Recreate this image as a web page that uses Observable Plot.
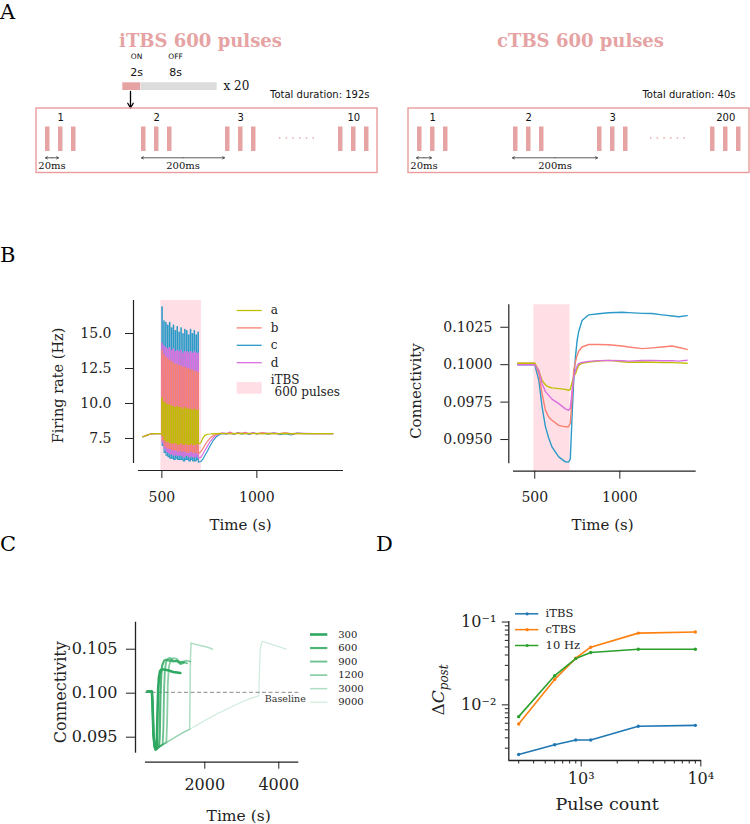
<!DOCTYPE html>
<html>
<head>
<meta charset="utf-8">
<script src="https://cdn.jsdelivr.net/npm/d3@7"></script>
<script src="https://cdn.jsdelivr.net/npm/@observablehq/plot@0.6"></script>
<style>
  html, body { margin: 0; padding: 0; background: #fff; }
  #fig { position: relative; width: 750px; height: 824px; overflow: hidden; background: #fff; }
  .letter { position: absolute; font-family: "DejaVu Serif", serif; font-size: 21px; line-height: 1; color: #000; }
</style>
</head>
<body>
<div id="fig"></div>
<script>
// ====================== DATA ======================
// ---- Panel A (schematic) ----
const schemTitles = ["iTBS 600 pulses", "cTBS 600 pulses"];
const schemDurations = ["Total duration: 192s", "Total duration: 40s"];
const schemBurstLabels = [["1", "2", "3", "10"], ["1", "2", "3", "200"]];
const schemPhaseLabels = ["ON", "OFF"];
const schemPhaseDurations = ["2s", "8s"];
const schemRepeat = "x 20";
const schemIntervals = ["20ms", "200ms"];

// ---- Panel B: firing rate (Hz) ----
const rateSeriesNames = ["a", "b", "c", "d"];
const ratePreT = [400, 420, 440, 460, 480, 498];
const ratePre = [7.62, 7.72, 7.82, 7.85, 7.85, 7.85];
// start / end (s) of each 2 s ON period of the 20 iTBS cycles
const rateOnT  = [500, 510, 520, 530, 540, 550, 560, 570, 580, 590, 600, 610, 620, 630, 640, 650, 660, 670, 680, 690];
const rateOffT = [502, 512, 522, 532, 542, 552, 562, 572, 582, 592, 602, 612, 622, 632, 642, 652, 662, 672, 682, 692];
const ratePostT = [705, 715, 725, 740, 755, 770, 785, 800, 820, 840, 860, 880, 900, 920, 940, 960, 980, 1000,
                   1030, 1060, 1090, 1120, 1150, 1180, 1210, 1250, 1300, 1350, 1400];
const rateAPeak = [10.4, 10.1, 10.0, 9.9, 9.9, 9.8, 9.8, 9.7, 9.8, 9.7, 9.7, 9.6, 9.7, 9.6, 9.6, 9.6, 9.5, 9.6, 9.5, 9.5];
const rateATrough = [7.7, 7.4, 7.3, 7.3, 7.2, 7.2, 7.2, 7.2, 7.1, 7.2, 7.2, 7.1, 7.2, 7.1, 7.1, 7.2, 7.1, 7.1, 7.2, 7.1];
const rateBPeak = [13.8, 13.5, 13.3, 13.2, 13.1, 13.0, 12.9, 12.8, 12.8, 12.7, 12.7, 12.6, 12.6, 12.5, 12.5, 12.4, 12.4, 12.3, 12.3, 12.2];
const rateBTrough = [7.4, 7.0, 6.9, 6.8, 6.8, 6.7, 6.7, 6.7, 6.6, 6.7, 6.6, 6.6, 6.6, 6.5, 6.6, 6.6, 6.5, 6.6, 6.5, 6.4];
const rateCPeak = [16.9, 15.9, 15.8, 15.6, 15.8, 15.4, 15.6, 15.2, 15.5, 15.1, 15.4, 15.0, 15.3, 15.2, 14.9, 15.3, 15.0, 15.2, 14.9, 15.1];
const rateCTrough = [7.0, 6.5, 6.3, 6.2, 6.1, 6.1, 6.0, 6.1, 6.0, 6.0, 6.0, 5.9, 6.0, 6.0, 5.9, 6.0, 5.9, 5.9, 6.0, 5.8];
const rateDPeak = [14.3, 14.1, 14.0, 13.9, 14.0, 13.8, 13.9, 13.7, 13.8, 13.7, 13.8, 13.6, 13.7, 13.7, 13.6, 13.7, 13.6, 13.7, 13.6, 13.6];
const rateDTrough = [7.2, 6.8, 6.6, 6.5, 6.4, 6.4, 6.3, 6.4, 6.3, 6.3, 6.3, 6.2, 6.3, 6.3, 6.2, 6.3, 6.2, 6.2, 6.3, 6.1];
const rateAPost = [7.2, 7.5, 7.7, 7.8, 7.82, 7.85, 7.83, 7.86, 7.84, 7.87, 7.83, 7.86, 7.84, 7.86, 7.83, 7.87, 7.84, 7.86, 7.83, 7.86, 7.85, 7.84, 7.86, 7.84, 7.85, 7.85, 7.85, 7.85, 7.85];
const rateBPost = [6.55, 6.75, 7.0, 7.3, 7.55, 7.7, 7.8, 7.85, 7.87, 7.83, 7.9, 7.82, 7.88, 7.84, 7.9, 7.82, 7.87, 7.85, 7.9, 7.83, 7.86, 7.84, 7.9, 7.83, 7.86, 7.85, 7.85, 7.85, 7.84];
const rateCPost = [5.85, 6.0, 6.25, 6.6, 7.0, 7.35, 7.6, 7.75, 7.85, 7.8, 7.9, 7.78, 7.92, 7.8, 7.88, 7.78, 7.9, 7.82, 7.88, 7.8, 7.9, 7.78, 7.85, 7.75, 7.88, 7.85, 7.84, 7.85, 7.84];
const rateDPost = [6.15, 6.35, 6.6, 6.95, 7.3, 7.55, 7.72, 7.82, 7.9, 7.85, 7.95, 7.82, 7.9, 7.86, 7.93, 7.84, 7.92, 7.83, 7.9, 7.86, 7.88, 7.85, 7.88, 7.84, 7.87, 7.86, 7.85, 7.85, 7.85];
const stimWindow = [495, 708];
const stimLegend = "iTBS\n\u00a0600 pulses";

// ---- Panel B: connectivity ----
const connT = [400, 450, 500, 524, 543, 563, 582, 601, 641, 680, 699, 709, 719, 729, 739, 749, 758, 778, 817, 875, 935, 1014, 1053, 1132, 1190, 1249, 1308, 1347, 1396];
const connA = [0.1001, 0.1001, 0.1001, 0.0996, 0.09895, 0.09865, 0.09851, 0.09845, 0.0984, 0.09835, 0.09829, 0.09835, 0.0988, 0.0992, 0.0994, 0.0997, 0.09995, 0.1001, 0.10018, 0.10025, 0.10029, 0.1002, 0.10016, 0.10018, 0.10016, 0.10015, 0.10014, 0.10012, 0.1001];
const connB = [0.1001, 0.1001, 0.1001, 0.0994, 0.09807, 0.09695, 0.0965, 0.09629, 0.09595, 0.09585, 0.09585, 0.0961, 0.0978, 0.09962, 0.1002, 0.10062, 0.1009, 0.10118, 0.10135, 0.10135, 0.10133, 0.10125, 0.10118, 0.10107, 0.10112, 0.10118, 0.10125, 0.10115, 0.10102];
const connC = [0.1000, 0.1000, 0.1000, 0.09895, 0.09718, 0.09585, 0.0951, 0.09451, 0.09384, 0.09351, 0.0935, 0.0937, 0.0965, 0.09895, 0.1005, 0.10162, 0.1022, 0.10295, 0.10333, 0.1034, 0.10347, 0.1035, 0.10348, 0.10343, 0.10342, 0.10333, 0.10325, 0.1032, 0.10328];
const connD = [0.1000, 0.1000, 0.1000, 0.0996, 0.09873, 0.0982, 0.09795, 0.0977, 0.0974, 0.09705, 0.09695, 0.0971, 0.0982, 0.0992, 0.0996, 0.0999, 0.10007, 0.10015, 0.10022, 0.10027, 0.10029, 0.10026, 0.10024, 0.10028, 0.10029, 0.10026, 0.10027, 0.10024, 0.1003];

// ---- Panel C: connectivity vs time for pulse counts ----
const pulseCountLabels = ["300", "600", "900", "1200", "3000", "9000"];
const cPreT = [450, 570, 590, 610, 640, 670, 700];
const cPreV = [0.1002, 0.1002, 0.0985, 0.0955, 0.0940, 0.0936, 0.0937];
const c300T = [720, 740, 760, 790, 830, 900, 1000, 1150, 1340];
const c300V = [0.0975, 0.1005, 0.1018, 0.1025, 0.1027, 0.1027, 0.1026, 0.1024, 0.1023];
const c600T = [760, 780, 800, 820, 850, 900, 950, 1050, 1150, 1250, 1350, 1430];
const c600V = [0.0939, 0.0950, 0.0995, 0.1020, 0.1032, 0.1037, 0.1038, 0.1037, 0.1036, 0.1037, 0.1035, 0.1035];
const c900T = [800, 860, 880, 900, 920, 950, 1000, 1060, 1150, 1250, 1350, 1450, 1520];
const c900V = [0.0940, 0.0942, 0.0960, 0.1005, 0.1025, 0.1035, 0.1039, 0.1040, 0.1037, 0.1036, 0.1033, 0.1035, 0.1034];
const c1200T = [800, 960, 980, 1000, 1030, 1080, 1150, 1250, 1330, 1400, 1500, 1610];
const c1200V = [0.0940, 0.0944, 0.0965, 0.1010, 0.1030, 0.1038, 0.1040, 0.1039, 0.1034, 0.1036, 0.1037, 0.1036];
const c3000T = [800, 1000, 1200, 1400, 1590, 1600, 1612, 1630, 1700, 1800, 1900, 2000, 2100, 2210];
const c3000V = [0.0940, 0.0945, 0.0950, 0.0955, 0.0959, 0.1000, 0.1040, 0.1057, 0.1056, 0.1055, 0.1054, 0.1053, 0.1052, 0.1050];
const c9000T = [800, 1000, 1200, 1400, 1590, 1800, 2000, 2300, 2600, 2800, 3000, 3235, 3460, 3480, 3500, 3540, 3570, 3700, 3850, 4000, 4200];
const c9000V = [0.0940, 0.0945, 0.0950, 0.0955, 0.0959, 0.0964, 0.0969, 0.0976, 0.0982, 0.0986, 0.0990, 0.0994, 0.0997, 0.1030, 0.1050, 0.1058, 0.1059, 0.1057, 0.1055, 0.1053, 0.1050];
const baselineValue = 0.1001;

// ---- Panel D: ΔC_post vs pulse count ----
const pulseCounts = [300, 600, 900, 1200, 3000, 9000];
const deltaITBS = [0.00252, 0.0033, 0.00376, 0.00376, 0.00551, 0.00566];
const deltaCTBS = [0.00588, 0.0203, 0.0366, 0.0497, 0.0735, 0.0757];
const delta10Hz = [0.00721, 0.0225, 0.0362, 0.0428, 0.0470, 0.0470];
const protocolNames = ["iTBS", "cTBS", "10 Hz"];

// ====================== STYLE ======================
const SERIF = '"DejaVu Serif", serif';
const SANS = '"DejaVu Sans", sans-serif';
const INK = "#222";
const PINK = "#e6a3a3";
const SPAN_FILL = "#ffdfe5";
const rateColors = {a: "#bfbf00", b: "#fa8072", c: "#2b9ac8", d: "#dc6fe0"};
const greenBase = "#2fa862";
const greenOpacity = [1, 0.85, 0.7, 0.55, 0.38, 0.22];
const greenWidth = [2.6, 2.2, 1.9, 1.8, 1.5, 1.3];
const protoColors = ["#1f77b4", "#ff7f0e", "#2ca02c"];

// ====================== HELPERS ======================
const fig = document.getElementById("fig");
function put(node, left, top) {
  node.style.position = "absolute";
  node.style.left = left + "px";
  node.style.top = top + "px";
  node.style.margin = "0";
  fig.appendChild(node);
  return node;
}
function letter(t, left, top) {
  const d = document.createElement("div");
  d.className = "letter";
  d.textContent = t;
  put(d, left, top);
}
const rows = (T, V, s) => T.map((t, i) => ({t, v: V[i], s}));
// ON/OFF cycles: rate holds its ON value between onset and offset, then its OFF value until the next onset
function cycles(pre, peaks, troughs, post) {
  const T = [...ratePreT], V = [...pre];
  let low = pre[pre.length - 1];
  peaks.forEach((p, k) => {
    T.push(rateOnT[k], rateOnT[k], rateOffT[k], rateOffT[k]);
    V.push(low, p, p, troughs[k]);
    low = troughs[k];
  });
  return {T: T.concat(ratePostT), V: V.concat(post)};
}
const baseStyle = (fs) => ({fontFamily: SERIF, fontSize: fs + "px", background: "transparent", overflow: "visible", color: INK});
const xLabel = (t, dx, dy, fs) => Plot.text([t], {frameAnchor: "bottom", text: d => d, dx, dy, fontSize: fs, textAnchor: "middle", lineAnchor: "middle"});
const yLabel = (t, dx, dy, fs) => Plot.text([t], {frameAnchor: "left", text: d => d, dx, dy, rotate: -90, fontSize: fs, textAnchor: "middle", lineAnchor: "middle"});

// ====================== PANEL A ======================
{
  const colBox = [[36, 377], [408, 749]];
  const titleX = [200, 580];
  const durX = [369, 735];
  const burstX = [[45, 141, 225, 338], [417, 513, 597, 710]];
  const pulseOffsets = [0, 13, 26];
  const pulseW = 4.5;
  const dotsX = [[279, 319], [650, 690]];
  const shortArr = [[45, 58], [416, 431]];
  const longArr = [[141, 224], [512, 597]];
  const phaseX = [136, 175];
  const phaseBar = [[122.3, 140.3, PINK], [140.7, 216.7, "#dcdcdc"]];

  const pulses = [], blabels = [];
  burstX.forEach((bx, p) => bx.forEach((x0, b) => {
    pulseOffsets.forEach(o => pulses.push({x1: x0 + o, x2: x0 + o + pulseW}));
    blabels.push({x: x0 + pulseOffsets[1] + pulseW / 2, text: schemBurstLabels[p][b]});
  }));
  const arrows = [];
  [...shortArr, ...longArr].forEach(([a, b]) => {
    const m = (a + b) / 2;
    arrows.push({x1: m, x2: a}, {x1: m, x2: b});
  });
  const intervalText = [
    ...shortArr.map(([a, b]) => ({x: (a + b) / 2, text: schemIntervals[0]})),
    ...longArr.map(([a, b]) => ({x: (a + b) / 2, text: schemIntervals[1]}))
  ];

  const pA = Plot.plot({
    width: 750, height: 210, margin: 0,
    x: {domain: [0, 750], range: [0, 750], axis: null},
    y: {domain: [0, 210], range: [0, 210], axis: null},
    style: {fontFamily: SANS, background: "transparent", overflow: "visible", color: "#111"},
    marks: [
      Plot.text(schemTitles, {x: (d, i) => titleX[i], y: 41, text: d => d, fontFamily: SERIF, fontWeight: "bold", fontSize: 18, fill: PINK}),
      Plot.text(schemPhaseLabels, {x: (d, i) => phaseX[i], y: 56, text: d => d, fontSize: 7.5}),
      Plot.text(schemPhaseDurations, {x: (d, i) => phaseX[i], y: 71.5, text: d => d, fontSize: 11}),
      Plot.rect(phaseBar, {x1: d => d[0], x2: d => d[1], y1: 82.3, y2: 90, fill: d => d[2]}),
      Plot.text([schemRepeat], {x: 223, y: 85.5, text: d => d, textAnchor: "start", fontFamily: SERIF, fontSize: 12}),
      Plot.arrow([0], {x1: 130, y1: 91, x2: 130, y2: 107.5, stroke: "#000", strokeWidth: 1.3, headLength: 7}),
      Plot.text(schemDurations, {x: (d, i) => durX[i], y: 94, text: d => d, textAnchor: "end", fontSize: 10}),
      Plot.rect(colBox, {x1: d => d[0], x2: d => d[1], y1: 108, y2: 172.5, fill: "none", stroke: "#e89c9c", strokeWidth: 1.4}),
      Plot.text(blabels, {x: "x", y: 117.7, text: "text", fontSize: 10}),
      Plot.rect(pulses, {x1: "x1", x2: "x2", y1: 126.5, y2: 151, fill: PINK}),
      Plot.ruleY([137.5, 137.5], {x1: (d, i) => dotsX[i][0], x2: (d, i) => dotsX[i][1], stroke: PINK, strokeWidth: 1.3, strokeDasharray: "1.4,5.3"}),
      Plot.arrow(arrows, {x1: "x1", x2: "x2", y1: 157.3, y2: 157.3, stroke: "#333", strokeWidth: 0.8, headLength: 4}),
      Plot.text(intervalText, {x: "x", y: 165, text: "text", fontFamily: SERIF, fontSize: 10})
    ]
  });
  put(pA, 0, 0);
}

// ====================== PANEL B (left) ======================
{
  const xDom = [377, 1456], yDom = [5.71, 17.36];
  const series = {
    a: cycles(ratePre, rateAPeak, rateATrough, rateAPost),
    b: cycles(ratePre, rateBPeak, rateBTrough, rateBPost),
    c: cycles(ratePre, rateCPeak, rateCTrough, rateCPost),
    d: cycles(ratePre, rateDPeak, rateDTrough, rateDPost)
  };
  const drawOrder = ["c", "d", "b", "a"];
  const p = Plot.plot({
    width: 375, height: 270,
    marginLeft: 133, marginRight: 32, marginTop: 30, marginBottom: 70,
    x: {domain: xDom, insetLeft: 5},
    y: {domain: yDom, insetBottom: 7},
    style: baseStyle(14),
    marks: [
      Plot.rect([stimWindow], {x1: d => d[0], x2: d => d[1], fill: SPAN_FILL}),
      ...drawOrder.map(s => Plot.line(rows(series[s].T, series[s].V, s), {x: "t", y: "v", stroke: rateColors[s], strokeWidth: 1.2})),
      Plot.ruleX([xDom[0]], {y1: yDom[0], y2: yDom[1], dx: -5, stroke: INK, strokeWidth: 1.2}),
      Plot.ruleY([yDom[0]], {x1: xDom[0], x2: xDom[1], dy: 7, stroke: INK, strokeWidth: 1.2}),
      Plot.axisX({ticks: [500, 1000], tickFormat: "d", tickSize: 8, tickPadding: 14, label: null}),
      Plot.axisY({ticks: [7.5, 10, 12.5, 15], tickFormat: ".1f", tickSize: 8, tickPadding: 14, label: null}),
      xLabel("Time (s)", 2, 55, 15),
      yLabel("Firing rate (Hz)", -75, 0, 14.5)
    ]
  });
  put(p, 0, 270);

  // legend
  const leg = rateSeriesNames.map((n, i) => ({row: i, label: n, color: rateColors[n]}));
  const L = Plot.plot({
    width: 140, height: 110, margin: 0,
    x: {domain: [0, 1], range: [11.7, 36.7], axis: null},
    y: {domain: [0, 1], range: [10, 27.4], axis: null},
    style: baseStyle(12),
    marks: [
      ...leg.map(r => Plot.ruleY([r.row], {x1: 0, x2: 1, stroke: r.color, strokeWidth: 1.3})),
      Plot.ruleY([4.45], {x1: 0, x2: 1, stroke: SPAN_FILL, strokeWidth: 11.6}),
      Plot.text(leg, {x: 1, y: "row", dx: 8.5, text: "label", textAnchor: "start"}),
      Plot.text([stimLegend], {x: 1, y: 4.33, dx: 8.5, text: d => d, textAnchor: "start", lineHeight: 1.06})
    ]
  });
  put(L, 225, 300);
}

// ====================== PANEL B (right) ======================
{
  const xDom = [375, 1449], yDom = [0.09338, 0.1040];
  const series = {a: connA, b: connB, c: connC, d: connD};
  const p = Plot.plot({
    width: 375, height: 270,
    marginLeft: 133.3, marginRight: 54.3, marginTop: 34.3, marginBottom: 69.3,
    x: {domain: xDom, insetLeft: 4.7},
    y: {domain: yDom, insetBottom: 7.4},
    style: baseStyle(14),
    marks: [
      Plot.rect([stimWindow], {x1: d => d[0], x2: d => d[1], fill: SPAN_FILL}),
      ...["c", "b", "a", "d"].map(s => Plot.line(rows(connT, series[s], s), {x: "t", y: "v", stroke: rateColors[s], strokeWidth: 1.4})),
      Plot.ruleX([xDom[0]], {y1: yDom[0], y2: yDom[1], dx: -4.7, stroke: INK, strokeWidth: 1.2}),
      Plot.ruleY([yDom[0]], {x1: xDom[0], x2: xDom[1], dy: 7.4, stroke: INK, strokeWidth: 1.2}),
      Plot.axisX({ticks: [500, 1000], tickFormat: "d", tickSize: 8, tickPadding: 13, label: null}),
      Plot.axisY({ticks: [0.095, 0.0975, 0.1, 0.1025], tickFormat: ".4f", tickSize: 8, tickPadding: 8.5, label: null}),
      xLabel("Time (s)", 0, 54, 15),
      yLabel("Connectivity", -93, 3, 15)
    ]
  });
  put(p, 375, 270);
}

// ====================== PANEL C ======================
{
  const xDom = [397, 4541], yDom = [0.09318, 0.10807];
  const tails = [[c300T, c300V], [c600T, c600V], [c900T, c900V], [c1200T, c1200V], [c3000T, c3000V], [c9000T, c9000V]];
  const lines = tails.map(([t, v], i) => rows(cPreT.concat(t), cPreV.concat(v), pulseCountLabels[i]));
  const p = Plot.plot({
    width: 375, height: 264,
    marginLeft: 135, marginRight: 76.7, marginTop: 61.7, marginBottom: 62.3,
    x: {domain: xDom, insetLeft: 10},
    y: {domain: yDom, insetBottom: 9},
    style: baseStyle(16),
    marks: [
      Plot.ruleY([baselineValue], {x1: xDom[0], x2: xDom[1], stroke: "#8a8a8a", strokeWidth: 1, strokeDasharray: "4,2.5"}),
      ...lines.map((r, i) => Plot.line(r, {x: "t", y: "v", stroke: greenBase, strokeOpacity: greenOpacity[i], strokeWidth: greenWidth[i]})).reverse(),
      Plot.text(["Baseline"], {x: xDom[1], y: baselineValue, text: d => d, dx: 7, dy: 7, textAnchor: "end", fontSize: 9.5, fill: "#333"}),
      Plot.ruleX([xDom[0]], {y1: yDom[0], y2: yDom[1], dx: -10, stroke: INK, strokeWidth: 1.3}),
      Plot.ruleY([yDom[0]], {x1: xDom[0], x2: xDom[1], dy: 9, stroke: INK, strokeWidth: 1.3}),
      Plot.axisX({ticks: [2000, 4000], tickFormat: "d", tickSize: 7, tickPadding: 9, label: null}),
      Plot.axisY({ticks: [0.095, 0.1, 0.105], tickFormat: ".3f", tickSize: 9, tickPadding: 9, label: null}),
      xLabel("Time (s)", 21.5, 54, 15.5),
      yLabel("Connectivity", -75, 0, 16)
    ]
  });
  put(p, 0, 560);

  const leg = pulseCountLabels.map((label, i) => ({row: i, label}));
  const L = Plot.plot({
    width: 70, height: 90, margin: 0,
    x: {domain: [0, 1], range: [10, 27.3], axis: null},
    y: {domain: [0, 1], range: [9, 22.54], axis: null},
    style: baseStyle(10),
    marks: [
      ...leg.map((r, i) => Plot.ruleY([r.row], {x1: 0, x2: 1, stroke: greenBase, strokeOpacity: greenOpacity[i], strokeWidth: greenWidth[i]})),
      Plot.text(leg, {x: 1, y: "row", dx: 10.4, text: "label", textAnchor: "start"})
    ]
  });
  put(L, 300, 625);
}

// ====================== PANEL D ======================
{
  const xDom = [248, 10130], yDom = [0.00213, 0.1015];
  const sup = {"-": "\u207B", "0": "\u2070", "1": "\u00B9", "2": "\u00B2", "3": "\u00B3", "4": "\u2074"};
  const pow10 = d => "10" + String(Math.round(Math.log10(d))).split("").map(c => sup[c]).join("");
  const minorX = [300, 400, 500, 600, 700, 800, 900, 2000, 3000, 4000, 5000, 6000, 7000, 8000, 9000];
  const minorY = [0.003, 0.004, 0.005, 0.006, 0.007, 0.008, 0.009, 0.02, 0.03, 0.04, 0.05, 0.06, 0.07, 0.08, 0.09];
  const series = [deltaITBS, deltaCTBS, delta10Hz].map((v, i) => rows(pulseCounts, v, protocolNames[i]));
  const p = Plot.plot({
    width: 375, height: 264,
    marginLeft: 133.3, marginRight: 49, marginTop: 61, marginBottom: 64,
    x: {type: "log", domain: xDom},
    y: {type: "log", domain: yDom},
    style: baseStyle(16),
    marks: [
      ...series.map((r, i) => Plot.line(r, {x: "t", y: "v", stroke: protoColors[i], strokeWidth: 1.6})),
      ...series.map((r, i) => Plot.dot(r, {x: "t", y: "v", fill: protoColors[i], r: 1.7})),
      Plot.ruleX([xDom[0]], {y1: yDom[0], y2: yDom[1], stroke: INK, strokeWidth: 1.3}),
      Plot.ruleY([yDom[0]], {x1: xDom[0], x2: xDom[1], stroke: INK, strokeWidth: 1.3}),
      Plot.axisX({ticks: [1000, 10000], tickFormat: pow10, tickSize: 6.5, tickPadding: 6, label: null}),
      Plot.axisX({ticks: minorX, tickFormat: () => "", tickSize: 3.5, label: null}),
      Plot.axisY({ticks: [0.01, 0.1], tickFormat: pow10, tickSize: 6.5, tickPadding: 6, label: null}),
      Plot.axisY({ticks: minorY, tickFormat: () => "", tickSize: 3.5, label: null}),
      xLabel("Pulse count", 2, 44, 17.5)
    ]
  });
  const lab = d3.select(p).append("text")
    .attr("transform", "translate(69,130) rotate(-90)")
    .attr("text-anchor", "middle")
    .attr("font-family", SERIF).attr("font-size", 17).attr("fill", INK);
  lab.append("tspan").text("\u0394");
  lab.append("tspan").attr("font-style", "italic").text("C");
  lab.append("tspan").attr("font-style", "italic").attr("font-size", 12).attr("dy", 4).text("post");
  put(p, 375, 560);

  const leg = protocolNames.map((label, i) => ({row: i, label, color: protoColors[i]}));
  const L = Plot.plot({
    width: 80, height: 50, margin: 0,
    x: {domain: [0, 1], range: [5, 28.3], axis: null},
    y: {domain: [0, 1], range: [8.3, 24.15], axis: null},
    style: baseStyle(11.5),
    marks: [
      ...leg.map(r => Plot.ruleY([r.row], {x1: 0, x2: 1, stroke: r.color, strokeWidth: 1.5})),
      Plot.dot(leg, {x: 0.5, y: "row", fill: "color", r: 1.6}),
      Plot.text(leg, {x: 1, y: "row", dx: 6.8, text: "label", textAnchor: "start"})
    ]
  });
  put(L, 510, 605);
}

// ====================== PANEL LETTERS ======================
letter("A", 0, 2);
letter("B", 0, 245);
letter("C", 0, 534);
letter("D", 376, 534);
</script>
</body>
</html>
